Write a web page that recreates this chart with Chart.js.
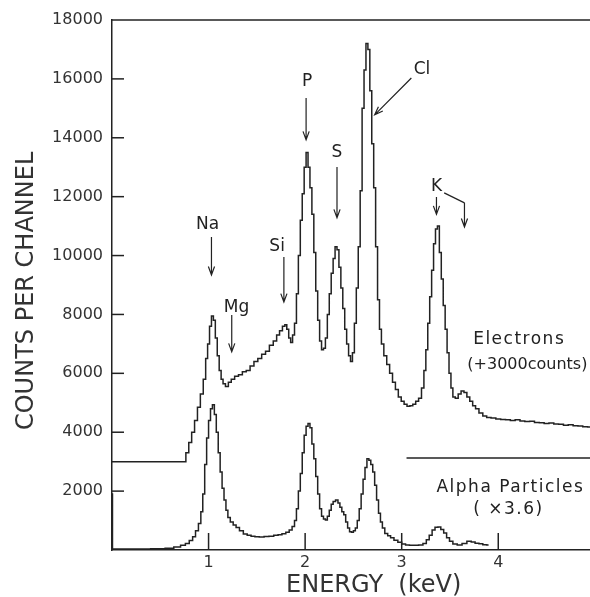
<!DOCTYPE html>
<html>
<head>
<meta charset="utf-8">
<script src="https://cdn.jsdelivr.net/npm/chart.js@4.4.1/dist/chart.umd.min.js"></script>
<style>
  body { margin: 0; background: #fff; }
  #wrap { width: 590px; height: 597px; }
</style>
</head>
<body>
<div id="wrap"><canvas id="grafico" width="590" height="597"></canvas></div>
<script>
// electron spectrum (shifted up by 3000 counts), keV / counts
const electronEnergy = [0, 0.75, 0.78, 0.81, 0.84, 0.87, 0.9, 0.93, 0.96, 0.98, 1.0, 1.02, 1.04, 1.06, 1.08, 1.1, 1.12, 1.14, 1.16, 1.19,
  1.22, 1.25, 1.29, 1.33, 1.37, 1.41, 1.45, 1.49, 1.53, 1.57, 1.61, 1.65, 1.69, 1.72, 1.75, 1.78, 1.8, 1.82, 1.84, 1.86,
  1.88, 1.9, 1.92, 1.94, 1.96, 1.98, 2.0, 2.02, 2.04, 2.06, 2.08, 2.1, 2.12, 2.14, 2.16, 2.18, 2.2, 2.22, 2.24, 2.26,
  2.28, 2.3, 2.32, 2.34, 2.36, 2.38, 2.4, 2.42, 2.44, 2.46, 2.48, 2.5, 2.52, 2.54, 2.56, 2.58, 2.6, 2.62, 2.64, 2.66,
  2.68, 2.7, 2.72, 2.74, 2.76, 2.78, 2.8, 2.83, 2.86, 2.89, 2.92, 2.95, 2.98, 3.01, 3.04, 3.07, 3.1, 3.13, 3.16, 3.19,
  3.22, 3.24, 3.26, 3.28, 3.3, 3.32, 3.34, 3.36, 3.38, 3.4, 3.42, 3.44, 3.46, 3.48, 3.5, 3.52, 3.54, 3.57, 3.6, 3.63,
  3.66, 3.69, 3.72, 3.75, 3.78, 3.82, 3.86, 3.9, 3.95, 4.0, 4.05, 4.1, 4.15, 4.2, 4.25, 4.3, 4.35, 4.4, 4.45, 4.5,
  4.55, 4.6, 4.65, 4.7, 4.75, 4.8, 4.85, 4.9, 4.95];
const electronCounts = [3000, 3000, 3300, 3650, 4000, 4400, 4850, 5300, 5800, 6500, 7000, 7600, 7950, 7800, 7200, 6600, 6100, 5800, 5650, 5550,
  5700, 5800, 5900, 5950, 6050, 6100, 6250, 6400, 6500, 6650, 6750, 6950, 7100, 7300, 7450, 7600, 7650, 7500, 7200, 7050,
  7300, 7700, 8700, 10000, 11200, 12100, 13000, 13500, 13000, 12300, 11400, 10100, 8800, 7800, 7100, 6800, 6850, 7200, 8000, 8700,
  9400, 9900, 10300, 10200, 9600, 8900, 8200, 7500, 7000, 6600, 6400, 6700, 7700, 8900, 10300, 12200, 15000, 16300, 17200, 17000,
  15600, 13800, 12300, 10300, 8500, 7500, 7000, 6600, 6300, 6000, 5700, 5450, 5200, 5050, 4950, 4880, 4900, 4950, 5050, 5150,
  5500, 6100, 6800, 7700, 8600, 9500, 10400, 10900, 11000, 10100, 9200, 8300, 7500, 6700, 6000, 5500, 5200, 5150, 5300, 5400,
  5350, 5200, 5050, 4900, 4800, 4650, 4550, 4500, 4480, 4450, 4430, 4420, 4400, 4420, 4380, 4360, 4370, 4330, 4320, 4300,
  4310, 4280, 4270, 4240, 4250, 4220, 4210, 4190, 4180];

// alpha particle spectrum (x 3.6)
const alphaEnergy = [0, 0.01, 0.3, 0.5, 0.6, 0.68, 0.74, 0.78, 0.82, 0.85, 0.88, 0.91, 0.93, 0.95, 0.97, 0.99, 1.01, 1.03, 1.05, 1.07,
  1.09, 1.11, 1.13, 1.15, 1.17, 1.19, 1.21, 1.24, 1.27, 1.3, 1.34, 1.38, 1.42, 1.46, 1.5, 1.55, 1.6, 1.65, 1.7, 1.74,
  1.78, 1.82, 1.85, 1.88, 1.9, 1.92, 1.94, 1.96, 1.98, 2.0, 2.02, 2.04, 2.06, 2.08, 2.1, 2.12, 2.14, 2.16, 2.18, 2.2,
  2.22, 2.24, 2.26, 2.28, 2.3, 2.33, 2.35, 2.37, 2.39, 2.41, 2.43, 2.45, 2.47, 2.49, 2.51, 2.53, 2.55, 2.57, 2.59, 2.61,
  2.63, 2.65, 2.67, 2.69, 2.71, 2.73, 2.75, 2.77, 2.79, 2.81, 2.84, 2.87, 2.9, 2.94, 2.98, 3.02, 3.06, 3.1, 3.15, 3.2,
  3.24, 3.27, 3.3, 3.33, 3.36, 3.39, 3.42, 3.45, 3.48, 3.51, 3.55, 3.6, 3.65, 3.7, 3.74, 3.78, 3.82, 3.86, 3.9];
const alphaCounts = [1900, 30, 30, 40, 60, 100, 160, 220, 320, 450, 650, 900, 1300, 1900, 2900, 3800, 4400, 4800, 4930, 4600,
  4000, 3300, 2650, 2100, 1700, 1350, 1100, 950, 850, 760, 650, 540, 500, 470, 450, 440, 460, 470, 500, 520,
  550, 600, 680, 800, 1000, 1400, 2000, 2600, 3300, 3900, 4200, 4300, 4150, 3600, 3100, 2500, 1900, 1400, 1150, 1050,
  1020, 1150, 1350, 1550, 1650, 1700, 1600, 1450, 1300, 1200, 950, 750, 620, 600, 650, 750, 1000, 1400, 1900, 2400,
  2800, 3100, 3050, 2900, 2650, 2200, 1700, 1250, 950, 750, 560, 480, 420, 330, 260, 200, 170, 160, 160, 170,
  220, 350, 500, 680, 770, 780, 700, 580, 420, 300, 200, 170, 220, 300, 270, 230, 210, 180, 170];

const xTicks = [1, 2, 3, 4];
const yTicks = [2000, 4000, 6000, 8000, 10000, 12000, 14000, 16000];

// element labels and arrows, in keV / counts
const notes = [
  { text: 'Na', x: 0.99, y: 11040 },
  { text: 'Mg', x: 1.29, y: 8250 },
  { text: 'Si', x: 1.71, y: 10290 },
  { text: 'P', x: 2.02, y: 15900 },
  { text: 'S', x: 2.33, y: 13490 },
  { text: 'Cl', x: 3.21, y: 16300 },
  { text: 'K', x: 3.36, y: 12330 }
];
const arrows = [
  { from: [1.03, 10630], to: [1.03, 9340] },
  { from: [1.24, 7980], to: [1.24, 6730] },
  { from: [1.78, 9950], to: [1.78, 8420] },
  { from: [2.01, 15350], to: [2.01, 13930] },
  { from: [2.33, 13010], to: [2.33, 11280] },
  { from: [3.10, 16030], to: [2.72, 14780] },
  { from: [3.36, 11990], to: [3.36, 11400] },
  { from: [3.65, 11790], to: [3.65, 10970] }
];
const kLink = [[3.44, 12130], [3.65, 11790]];

const ink = '#222';

const decor = {
  id: 'decor',
  afterDraw(chart) {
    const { ctx, chartArea } = chart;
    const x = chart.scales.x, y = chart.scales.y;
    ctx.save();
    ctx.strokeStyle = ink;
    ctx.fillStyle = ink;
    ctx.lineWidth = 1.5;

    // top frame line
    const top = y.getPixelForValue(18000);
    ctx.beginPath();
    ctx.moveTo(chartArea.left, top);
    ctx.lineTo(chartArea.right, top);
    ctx.stroke();

    // inward tick marks
    xTicks.forEach(v => {
      const px = x.getPixelForValue(v);
      ctx.beginPath();
      ctx.moveTo(px, chartArea.bottom);
      ctx.lineTo(px, chartArea.bottom - 17);
      ctx.stroke();
    });
    yTicks.forEach(v => {
      const py = y.getPixelForValue(v);
      ctx.beginPath();
      ctx.moveTo(chartArea.left, py);
      ctx.lineTo(chartArea.left + 12, py);
      ctx.stroke();
    });

    // arrows
    ctx.lineWidth = 1.2;
    arrows.forEach(a => {
      const x1 = x.getPixelForValue(a.from[0]), y1 = y.getPixelForValue(a.from[1]);
      const x2 = x.getPixelForValue(a.to[0]), y2 = y.getPixelForValue(a.to[1]);
      const ang = Math.atan2(y2 - y1, x2 - x1);
      ctx.beginPath();
      ctx.moveTo(x1, y1);
      ctx.lineTo(x2, y2);
      ctx.moveTo(x2 - 9 * Math.cos(ang - 0.35), y2 - 9 * Math.sin(ang - 0.35));
      ctx.lineTo(x2, y2);
      ctx.lineTo(x2 - 9 * Math.cos(ang + 0.35), y2 - 9 * Math.sin(ang + 0.35));
      ctx.stroke();
    });
    ctx.beginPath();
    ctx.moveTo(x.getPixelForValue(kLink[0][0]), y.getPixelForValue(kLink[0][1]));
    ctx.lineTo(x.getPixelForValue(kLink[1][0]), y.getPixelForValue(kLink[1][1]));
    ctx.stroke();

    // separator line above the alpha label
    ctx.lineWidth = 1.5;
    ctx.beginPath();
    ctx.moveTo(x.getPixelForValue(3.05), y.getPixelForValue(3125));
    ctx.lineTo(chartArea.right, y.getPixelForValue(3125));
    ctx.stroke();

    // labels
    ctx.textAlign = 'center';
    ctx.textBaseline = 'middle';
    ctx.font = '17px "DejaVu Sans"';
    notes.forEach(n => ctx.fillText(n.text, x.getPixelForValue(n.x), y.getPixelForValue(n.y)));

    ctx.textAlign = 'left';
    ctx.letterSpacing = '1.5px';
    ctx.fillText('Electrons', x.getPixelForValue(3.74), y.getPixelForValue(7150));
    ctx.fillText('Alpha Particles', x.getPixelForValue(3.36), y.getPixelForValue(2110));
    ctx.fillText('( \u00d73.6)', x.getPixelForValue(3.74), y.getPixelForValue(1360));
    ctx.letterSpacing = '0px';
    ctx.font = '16px "DejaVu Sans"';
    ctx.fillText('(+3000counts)', x.getPixelForValue(3.68), y.getPixelForValue(6300));

    // axis titles
    ctx.textAlign = 'center';
    ctx.font = '24px "DejaVu Sans"';
    ctx.fillStyle = '#333';
    ctx.fillText('ENERGY  (keV)', x.getPixelForValue(2.71), 586);
    ctx.translate(27, y.getPixelForValue(8800));
    ctx.rotate(-Math.PI / 2);
    ctx.fillText('COUNTS PER CHANNEL', 0, 0);
    ctx.restore();
  }
};

const grafico = document.getElementById('grafico');
new Chart(grafico, {
  type: 'line',
  data: {
    datasets: [
      {
        label: 'Electrons (+3000 counts)',
        data: electronEnergy.map((e, i) => ({ x: e, y: electronCounts[i] })),
        borderColor: ink, borderWidth: 1.5, pointRadius: 0, stepped: 'middle', fill: false
      },
      {
        label: 'Alpha Particles (x3.6)',
        data: alphaEnergy.map((e, i) => ({ x: e, y: alphaCounts[i] })),
        borderColor: ink, borderWidth: 1.5, pointRadius: 0, stepped: 'middle', fill: false
      }
    ]
  },
  options: {
    responsive: false,
    animation: false,
    devicePixelRatio: 1,
    layout: { padding: { top: 20, right: 0, left: 0, bottom: 0 } },
    plugins: { legend: { display: false }, tooltip: { enabled: false } },
    scales: {
      x: {
        type: 'linear', min: 0, max: 4.95,
        afterFit: s => { s.height = 47; },
        grid: { drawOnChartArea: false, drawTicks: false },
        border: { color: ink, width: 1.5 },
        ticks: {
          stepSize: 1, includeBounds: false, padding: 3,
          color: '#333', font: { family: 'DejaVu Sans', size: 16 },
          callback: v => (xTicks.includes(v) ? v : '')
        }
      },
      y: {
        min: 0, max: 18000,
        afterFit: s => { s.width = 112; },
        grid: { drawOnChartArea: false, drawTicks: false },
        border: { color: ink, width: 1.5 },
        ticks: {
          stepSize: 2000, padding: 9,
          color: '#333', font: { family: 'DejaVu Sans', size: 16 },
          callback: v => (v === 0 ? '' : v)
        }
      }
    }
  },
  plugins: [decor]
});
</script>
</body>
</html>
